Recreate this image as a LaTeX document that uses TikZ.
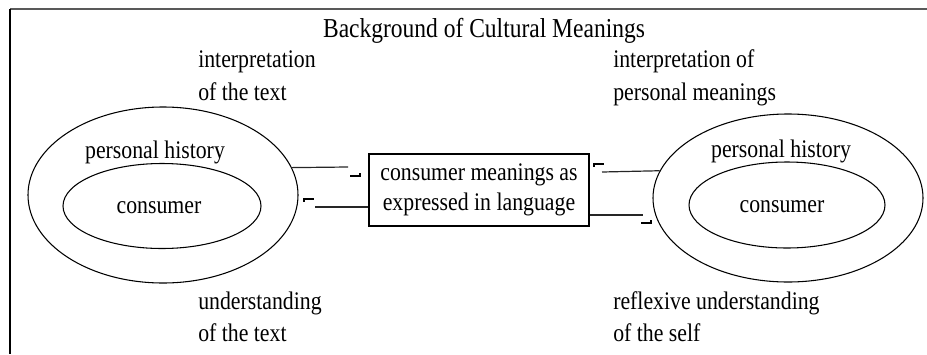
\documentclass[tikz,border=0pt]{standalone}
\usepackage{fontspec}
\setmainfont{Liberation Serif}[FakeStretch=0.86]
\usetikzlibrary{shapes.geometric,calc}
\begin{document}
\begin{tikzpicture}[x=0.75pt,y=-0.75pt,
  txt/.style={font=\fontsize{19pt}{24pt}\selectfont, inner sep=0pt, anchor=base west},
  lbl/.style={font=\fontsize{19pt}{24pt}\selectfont, inner sep=0pt, anchor=base},
  ring/.style={draw, ellipse, line width=0.8pt, inner sep=0pt},
  link/.style={line width=0.9pt, draw=black!85},
  hookmark/.style={line width=0.85pt}]
\useasboundingbox (0,0) rectangle (927,354);

% open frame: grey top rule and black left rule
\draw[line width=1.5pt, draw=black!65] (10,9) -- (927,9);
\draw[line width=1pt] (10,9) -- (10,354);

\node[font=\fontsize{20.5pt}{24pt}\selectfont, inner sep=0pt, anchor=base] (title) at (484,37) {Background of Cultural Meanings};

% left person
\node[ring, minimum width=202.5pt, minimum height=132pt] (outerL) at (163,195) {};
\node[ring, minimum width=148.5pt, minimum height=63.75pt] (innerL) at (162,206) {};
\node[lbl] (histL) at (155,158) {personal history};
\node[lbl] (consL) at (159,213) {consumer};

% right person
\node[ring, minimum width=202.5pt, minimum height=126pt] (outerR) at (788,198) {};
\node[ring, minimum width=147pt, minimum height=64.5pt] (innerR) at (787,205) {};
\node[lbl] (histR) at (781,157) {personal history};
\node[lbl] (consR) at (782,212) {consumer};

% central text box
\node[draw, line width=0.9pt, minimum width=165pt, minimum height=54pt, inner sep=0pt,
      font=\fontsize{19pt}{22.5pt}\selectfont, align=center] (box) at (479,190)
      {consumer meanings as\\expressed in language};

% side captions
\node[txt] (intL1) at (198,67) {interpretation};
\node[txt] (intL2) at (198,100) {of the text};
\node[txt] (intR1) at (613,67) {interpretation of};
\node[txt] (intR2) at (613,100) {personal meanings};
\node[txt] (undL1) at (198,309) {understanding};
\node[txt] (undL2) at (198,341) {of the text};
\node[txt] (undR1) at (613,309) {reflexive understanding};
\node[txt] (undR2) at (613,341) {of the self};

% free ends of the connectors
\coordinate (a1) at (348,167);
\coordinate (a2) at (315,207);
\coordinate (a3) at (602,172);
\coordinate (a4) at (643,215);

% connectors
\draw[link] (outerL.12.3) -- (a1);
\draw[link] (box.west |- a2) -- (a2);
\draw[link] (outerR.168.5) -- (a3);
\draw[link] (box.east |- a4) -- (a4);

% small arrow heads beside the free ends
\draw[hookmark] ($(a1)+(2,9)$) -- ++(10,0) -- ++(0,-3);
\draw[hookmark] ($(a2)+(-11,-8)$) -- ++(10,0);
\draw[hookmark] ($(a2)+(-11,-9)$) -- ++(0,4);
\draw[hookmark] ($(a3)+(-8,-8)$) -- ++(10,0);
\draw[hookmark] ($(a3)+(-8,-9)$) -- ++(0,4);
\draw[hookmark] ($(a4)+(-2,8)$) -- ++(10,0) -- ++(0,-3);
\end{tikzpicture}
\end{document}
